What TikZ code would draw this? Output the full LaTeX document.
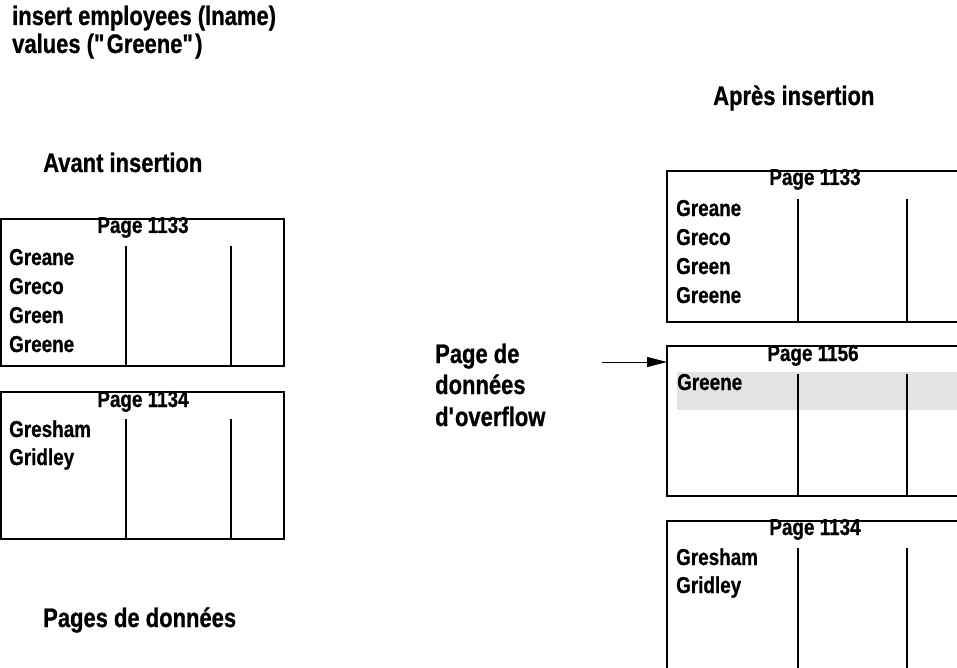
\documentclass[tikz,border=0pt]{standalone}
\usepackage{fontspec}
\setmainfont{Liberation Sans}[FakeStretch=0.82, BoldFeatures={FakeBold=0.8}]
\usetikzlibrary{arrows.meta}
\definecolor{bandgrey}{HTML}{E3E3E3}
\begin{document}
\begin{tikzpicture}[x=1pt,y=-1pt,
  frame/.style={line width=1.8pt, line cap=rect},
  entry/.style={font=\bfseries\fontsize{23}{29}\selectfont, anchor=base west, inner sep=0pt},
  pagetitle/.style={font=\bfseries\fontsize{23}{29}\selectfont, anchor=base, inner sep=0pt},
  caption/.style={font=\bfseries\fontsize{26.8}{30}\selectfont, anchor=base west, inner sep=0pt}]
\useasboundingbox (0,0) rectangle (957,668);
\clip (0,0) rectangle (957,668);

% statement
\node[caption] (stmt1) at (12,25) {insert employees (lname)};
\node[caption] (stmt2) at (12,53) {values (\textquotedbl Greene\textquotedbl)};

% ---- before the insert ----
\node[caption] (before) at (43,172) {Avant insertion};

\draw[frame] (1,219) rectangle (284,366);
\draw[frame] (126,247) -- (126,366) (231,247) -- (231,366);
\node[pagetitle] (l1t) at (143,233) {Page 1133};
\node[entry] (l1a) at (9,265) {Greane};
\node[entry] (l1b) at (9,294) {Greco};
\node[entry] (l1c) at (9,323) {Green};
\node[entry] (l1d) at (9,352) {Greene};

\draw[frame] (1,392) rectangle (284,539);
\draw[frame] (126,420) -- (126,539) (231,420) -- (231,539);
\node[pagetitle] (l2t) at (143,407) {Page 1134};
\node[entry] (l2a) at (9,437) {Gresham};
\node[entry] (l2b) at (9,465) {Gridley};

\node[caption] (pages) at (43,627) {Pages de données};

% ---- after the insert ----
\node[caption] (after) at (713,105) {Après insertion};

\draw[frame] (962,171) -| (667,322) -- (962,322);
\draw[frame] (798,200) -- (798,322) (907,200) -- (907,322);
\node[pagetitle] (r1t) at (815,185) {Page 1133};
\node[entry] (r1a) at (676,216) {Greane};
\node[entry] (r1b) at (676,245) {Greco};
\node[entry] (r1c) at (676,274) {Green};
\node[entry] (r1d) at (676,303) {Greene};

% overflow page with the new row highlighted
\fill[bandgrey] (677,372) rectangle (962,410);
\draw[frame] (962,346) -| (667,496) -- (962,496);
\draw[frame] (798,375) -- (798,496) (907,375) -- (907,496);
\node[pagetitle] (r2t) at (813,361) {Page 1156};
\node[entry] (r2a) at (677,390) {Greene};

\draw[frame] (962,521) -| (667,672);
\draw[frame] (798,549) -- (798,672) (907,549) -- (907,672);
\node[pagetitle] (r3t) at (815,535) {Page 1134};
\node[entry] (r3a) at (676,565) {Gresham};
\node[entry] (r3b) at (676,593) {Gridley};

% overflow label and pointer
\node[caption] (ov1) at (435,363) {Page de};
\node[caption] (ov2) at (435,394) {données};
\node[caption] (ov3) at (435,426) {d\textquotesingle overflow};
\coordinate (ptrstart) at (602,362);
\coordinate (ptrend) at (667,362);
\draw[line width=1pt, -{Triangle[length=20pt,width=10pt]}] (ptrstart) -- (ptrend);
\end{tikzpicture}
\end{document}
